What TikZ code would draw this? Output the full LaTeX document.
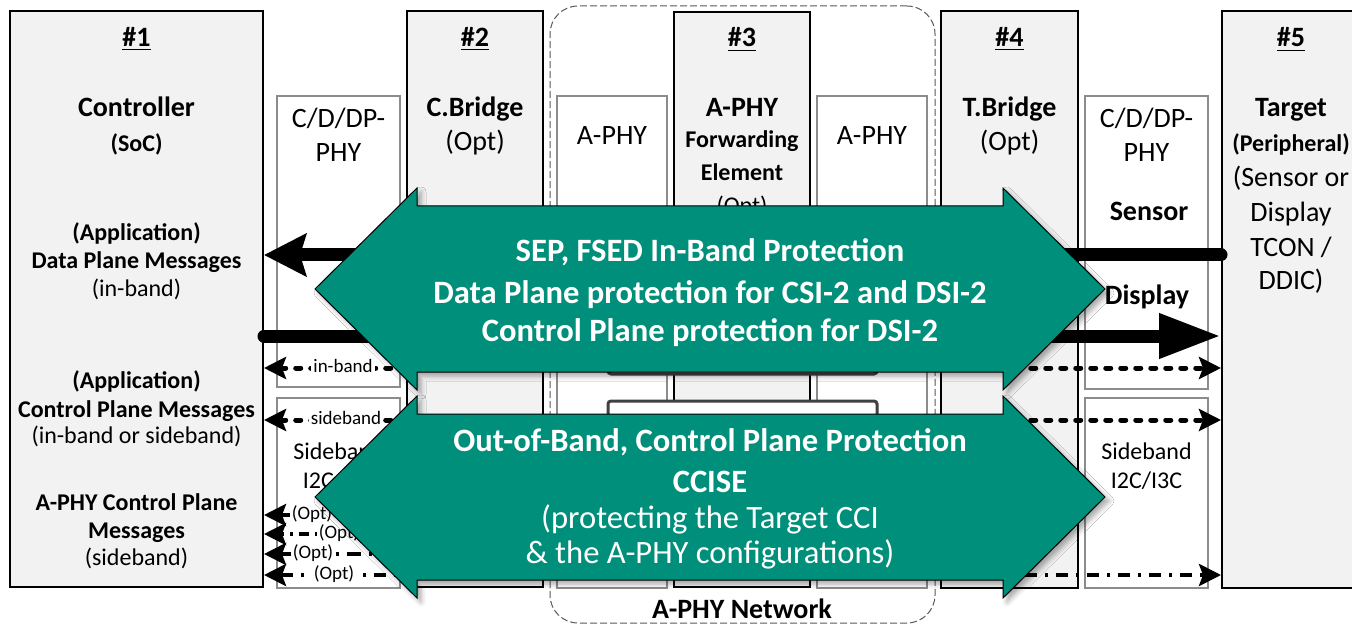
\documentclass[tikz,border=0pt]{standalone}
\usepackage{fontspec}
\setmainfont{Carlito}
\usetikzlibrary{fit,arrows.meta,shadows.blur}

\definecolor{unitfill}{HTML}{F2F2F2}
\definecolor{phyedge}{HTML}{8C8C8C}
\definecolor{protfill}{HTML}{008F7A}
\definecolor{cciedge}{HTML}{404040}
\definecolor{netedge}{HTML}{595959}

\newcommand\szTitle{\fontsize{14}{16}\selectfont}
\newcommand\szSub{\fontsize{12}{14}\selectfont}
\newcommand\szSoc{\fontsize{12}{14}\selectfont}
\newcommand\szTag{\fontsize{9.5}{11}\selectfont}
\newcommand\szBig{\fontsize{16.3}{19}\selectfont}

\tikzset{
  unit/.style={draw=black, line width=1pt, fill=unitfill, inner sep=0pt},
  phybox/.style={draw=phyedge, line width=0.7pt, fill=white, inner sep=0pt},
  ccibox/.style={draw=cciedge, line width=1.5pt, fill=white, rounded corners=1.5pt, inner sep=0pt},
  network/.style={draw=netedge, line width=0.5pt, dash pattern=on 3.5pt off 1.5pt, rounded corners=14pt, inner sep=0pt},
  lbl/.style={inner sep=0pt, anchor=base},
  ttl/.style={lbl, font=\szTitle\bfseries},
  ttlr/.style={lbl, font=\szTitle},
  sub/.style={lbl, font=\szSub\bfseries},
  subr/.style={lbl, font=\szSub},
  tag/.style={inner sep=1pt, fill=white, anchor=mid, font=\szTag},
  prottext/.style={lbl, text=white, font=\szBig\bfseries},
  prottextr/.style={lbl, text=white, font=\szBig},
  dataflow/.style={line width=6.5pt, line cap=round},
  ctrlflow/.style={line width=2.5pt, line cap=round, dash pattern=on 2.5pt off 5pt},
  optflow/.style={line width=2pt},
  ctltip/.tip={Stealth[length=11pt, width=11pt, inset=2pt]},
  protarrow/.style={fill=protfill, draw=black, line width=0.5pt, line join=miter,
    blur shadow={shadow xshift=2pt, shadow yshift=-2pt, shadow blur radius=2.5pt, shadow opacity=35}},
}

\begin{document}
\begin{tikzpicture}[x=0.5pt, y=-0.5pt]
\useasboundingbox (0,0) rectangle (1352,625);
\clip (0,0) rectangle (1352,625);

% A-PHY network outline
\node[network, fit={(550,6)(935,623)}] (net) {};

% devices and PHY blocks
\node[unit, fit={(10,11)(263,587)}] (ctrl) {};
\node[phybox, fit={(277,96)(400,387)}] (phyL) {};
\node[phybox, fit={(277,398)(400,588)}] (sbL) {};
\node[unit, fit={(407,11)(543,587)}] (cbr) {};
\node[phybox, fit={(557,96)(667,588)}] (aphyL) {};
\node[unit, fit={(674,12)(810,587)}] (fwd) {};
\node[phybox, fit={(817,96)(927,588)}] (aphyR) {};
\node[unit, fit={(941,11)(1078,588)}] (tbr) {};
\node[phybox, fit={(1085,96)(1208,389)}] (phyR) {};
\node[phybox, fit={(1085,398)(1208,588)}] (sbR) {};
\node[unit, fit={(1222,11)(1375,588)}] (tgt) {};

% configuration blocks inside the network
\node[ccibox, fit={(608,225)(877,374)}] (cciU) {};
\node[ccibox, fit={(608,401)(877,470)}] (cciD) {};

% controller
\node[ttl] (n1) at (136.5,47) {\underline{\#1}};
\node[ttl] (ctrlname) at (136.5,117) {Controller};
\node[lbl, font=\szSoc\bfseries] (ctrlsoc) at (136.5,152) {(SoC)};
\node[sub] (dpA) at (136.5,241) {(Application)};
\node[sub] (dpB) at (136.5,269) {Data Plane Messages};
\node[subr] (dpC) at (136.5,297) {(in-band)};
\node[sub] (cpA) at (136.5,388) {(Application)};
\node[sub] (cpB) at (136.5,417) {Control Plane Messages};
\node[subr] (cpC) at (136.5,443) {(in-band or sideband)};
\node[sub] (apA) at (136.5,510) {A-PHY Control Plane};
\node[sub] (apB) at (136.5,538) {Messages};
\node[subr] (apC) at (136.5,565) {(sideband)};

% controller side PHY
\node[ttlr] (phyLa) at (338.5,128) {C/D/DP-};
\node[ttlr] (phyLb) at (338.5,162) {PHY};
\node[subr] (sbLa) at (338.5,459) {Sideband};
\node[subr] (sbLb) at (338.5,488) {I2C/I3C};

% controller bridge
\node[ttl] (n2) at (475,47) {\underline{\#2}};
\node[ttl] (cbrname) at (475,117) {C.Bridge};
\node[ttlr] (cbropt) at (475,151) {(Opt)};

% forwarding element and its A-PHYs
\node[ttlr] (aphyLt) at (612,145) {A-PHY};
\node[ttl] (n3) at (742,47) {\underline{\#3}};
\node[ttl] (fwdname) at (742,117) {A-PHY};
\node[sub] (fwdB) at (742,148) {Forwarding};
\node[sub] (fwdC) at (742,181) {Element};
\node[subr] (fwdD) at (742,214) {(Opt)};
\node[ttlr] (aphyRt) at (872,145) {A-PHY};

% target bridge
\node[ttl] (n4) at (1009.5,47) {\underline{\#4}};
\node[ttl] (tbrname) at (1009.5,117) {T.Bridge};
\node[ttlr] (tbropt) at (1009.5,151) {(Opt)};

% target side PHY
\node[ttlr] (phyRa) at (1146.5,128) {C/D/DP-};
\node[ttlr] (phyRb) at (1146.5,162) {PHY};
\node[ttl] (phyRs) at (1149,221) {Sensor};
\node[ttl] (phyRd) at (1147,305) {Display};
\node[subr] (sbRa) at (1146.5,459) {Sideband};
\node[subr] (sbRb) at (1146.5,488) {I2C/I3C};

% target
\node[ttl] (n5) at (1291,47) {\underline{\#5}};
\node[ttl] (tgtname) at (1291,117) {Target};
\node[sub] (tgtB) at (1291,152) {(Peripheral)};
\node[ttlr] (tgtC) at (1291,187) {(Sensor or};
\node[ttlr] (tgtD) at (1291,222) {Display};
\node[ttlr] (tgtE) at (1291,257) {TCON /};
\node[ttlr] (tgtF) at (1291,290) {DDIC)};

\node[ttl] (netname) at (742,618) {A-PHY Network};

% message rows
\coordinate (yDL) at (0,255);
\coordinate (yDR) at (0,336);
\coordinate (yIB) at (0,368);
\coordinate (ySB) at (0,420);
\coordinate (yO1) at (0,515);
\coordinate (yO2) at (0,534);
\coordinate (yO3) at (0,554);
\coordinate (yO4) at (0,575);

\draw[dataflow, -{Stealth[length=21pt, width=21pt, inset=3pt]}] (tgt.west |- yDL) -- (ctrl.east |- yDL);
\draw[dataflow, -{Triangle[length=31pt, width=21pt]}] (ctrl.east |- yDR) -- (tgt.west |- yDR);
\draw[ctrlflow, ctltip-ctltip] (ctrl.east |- yIB) -- (tgt.west |- yIB);
\draw[ctrlflow, ctltip-ctltip] (ctrl.east |- ySB) -- (tgt.west |- ySB);
\draw[optflow, ctltip-] (ctrl.east |- yO1) -- (aphyL.west |- yO1);
\draw[optflow, ctltip-, dash pattern=on 1.5pt off 3pt on 1.5pt off 3pt on 5pt off 3pt] (ctrl.east |- yO2) -- (fwd.west |- yO2);
\draw[optflow, ctltip-, dash pattern=on 7pt off 4pt on 1.5pt off 4pt] (ctrl.east |- yO3) -- (aphyR.west |- yO3);
\draw[optflow, ctltip-ctltip, dash pattern=on 6pt off 4pt on 1.5pt off 4pt] (ctrl.east |- yO4) -- (tgt.west |- yO4);

\node[tag] (lblIB) at (343,368) {in-band};
\node[tag] (lblSB) at (346,420) {sideband};
\node[tag] (lblO1) at (312,515) {(Opt)};
\node[tag] (lblO2) at (339,534) {(Opt)};
\node[tag] (lblO3) at (313,554) {(Opt)};
\node[tag] (lblO4) at (334,575) {(Opt)};

% in-band protection
\path[protarrow] (315,289) -- (417,188) -- (417,206) -- (1003,206) -- (1003,188)
  -- (1105,289) -- (1003,390) -- (1003,372) -- (417,372) -- (417,390) -- cycle;
\node[prottext] (pA) at (710,262) {SEP, FSED In-Band Protection};
\node[prottext] (pB) at (710,303) {Data Plane protection for CSI-2 and DSI-2};
\node[prottext] (pC) at (710,341) {Control Plane protection for DSI-2};

% out-of-band protection
\path[protarrow] (315,497) -- (417,396) -- (417,414) -- (1003,414) -- (1003,396)
  -- (1105,497) -- (1003,598) -- (1003,580) -- (417,580) -- (417,598) -- cycle;
\node[prottext] (qA) at (710,451) {Out-of-Band, Control Plane Protection};
\node[prottext] (qB) at (710,492) {CCISE};
\node[prottextr] (qC) at (710,528) {(protecting the Target CCI};
\node[prottextr] (qD) at (710,563) {\& the A-PHY configurations)};
\end{tikzpicture}
\end{document}
